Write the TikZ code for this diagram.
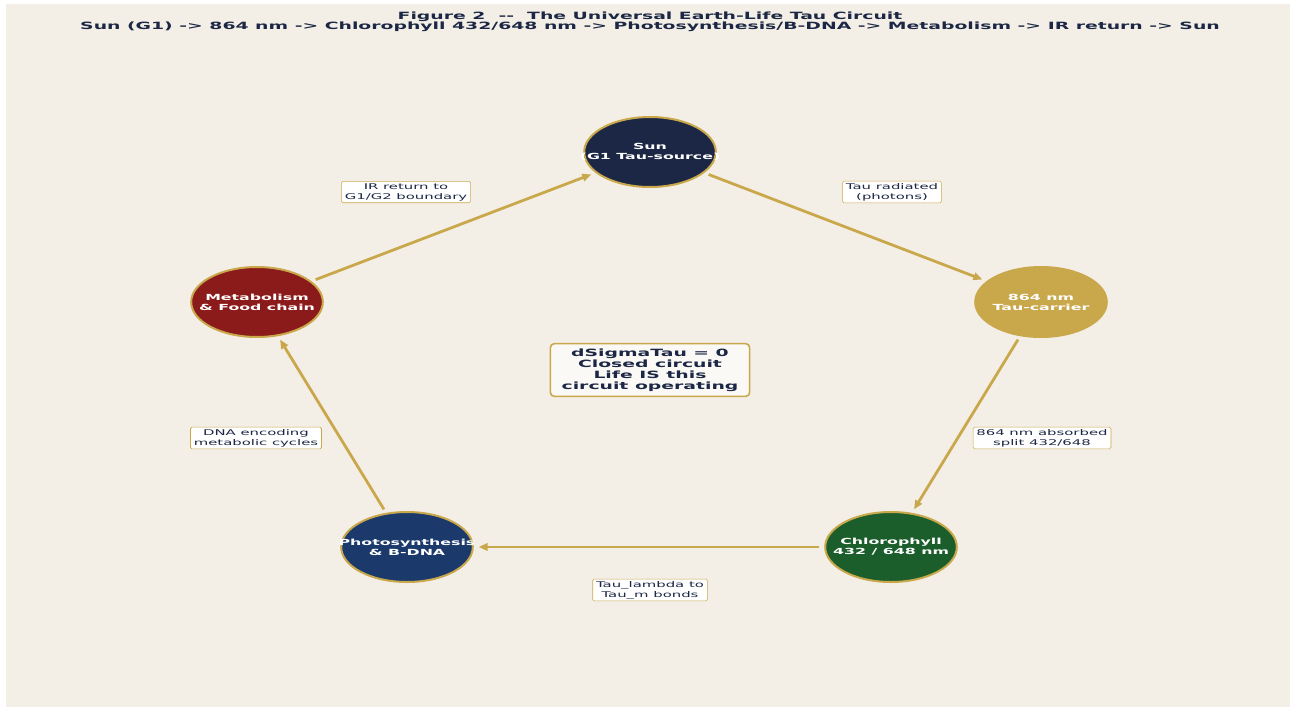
\documentclass[tikz,border=0pt]{standalone}
\usepackage{fontspec}
\setmainfont{DejaVu Sans}[Ligatures=TeXOff]
\usetikzlibrary{arrows.meta}

\definecolor{cream}{HTML}{F4EFE6}
\definecolor{navy}{HTML}{1B2744}
\definecolor{gold}{HTML}{C9A84C}
\definecolor{leaf}{HTML}{1B5E2B}
\definecolor{deepblue}{HTML}{1B3A6B}
\definecolor{rust}{HTML}{8B1A1A}

% two lines of zero width, so the ring keeps its own size
\newcommand{\ringtext}[2]{\makebox[0pt]{#1}\\\makebox[0pt]{#2}}

\tikzset{
  stage/.style={circle, draw=gold, line width=2pt, minimum size=70pt, inner sep=0pt,
    xscale=1.88, text=white, align=center, font=\bfseries\fontsize{8.4}{10}\selectfont},
  note/.style={draw=gold, fill=white, rounded corners=1.5pt, line width=0.6pt,
    inner xsep=1.8pt, inner ysep=2pt, xscale=1.88, text=navy, align=center,
    font=\fontsize{7.9}{10}\selectfont},
  hub/.style={draw=gold, fill=cream!40!white, rounded corners=4pt, line width=1.6pt,
    inner xsep=6pt, inner ysep=5pt, xscale=1.88, text=navy, align=center,
    font=\bfseries\fontsize{10}{11}\selectfont},
  flow/.style={gold, line width=2.8pt, -{Triangle[length=9pt,width=7.5pt]},
    shorten <=4pt, shorten >=4pt},
}

\begin{document}
\begin{tikzpicture}[x=1pt, y=-1pt]
  \fill[white] (0,0) rectangle (1290,707);
  \fill[cream] (6,4) rectangle (1290,707);

  \node[text=navy, xscale=1.88, align=center, font=\bfseries\fontsize{10}{10.2}\selectfont]
    (title) at (650,22) {Figure 2\ \ --\ \ The Universal Earth-Life Tau Circuit\\
    Sun (G1) -> 864 nm -> Chlorophyll 432/648 nm -> Photosynthesis/B-DNA -> Metabolism -> IR return -> Sun};

  \node[stage, fill=navy] (sun) at (650,152) {\ringtext{Sun}{(G1 Tau-source)}};
  \node[stage, fill=gold, draw=gold] (carrier) at (1041,302) {\ringtext{864 nm}{Tau-carrier}};
  \node[stage, fill=leaf] (chloro) at (891,547) {\ringtext{Chlorophyll}{432 / 648 nm}};
  \node[stage, fill=deepblue] (photo) at (407,547) {\ringtext{Photosynthesis}{\& B-DNA}};
  \node[stage, fill=rust] (meta) at (257,302) {\ringtext{Metabolism}{\& Food chain}};

  \node[hub] (core) at (650,370) {dSigmaTau = 0\\Closed circuit\\Life IS this\\circuit operating};

  \draw[flow] (sun) -- (carrier);
  \draw[flow] (carrier) -- (chloro);
  \draw[flow] (chloro) -- (photo);
  \draw[flow] (photo) -- (meta);
  \draw[flow] (meta) -- (sun);

  \node[note] (n1) at (892,192) {Tau radiated\\(photons)};
  \node[note] (n2) at (1042,438) {864 nm absorbed\\split 432/648};
  \node[note] (n3) at (650,590) {Tau\_lambda to\\Tau\_m bonds};
  \node[note] (n4) at (256,438) {DNA encoding\\metabolic cycles};
  \node[note] (n5) at (406,192) {IR return to\\G1/G2 boundary};
\end{tikzpicture}
\end{document}
